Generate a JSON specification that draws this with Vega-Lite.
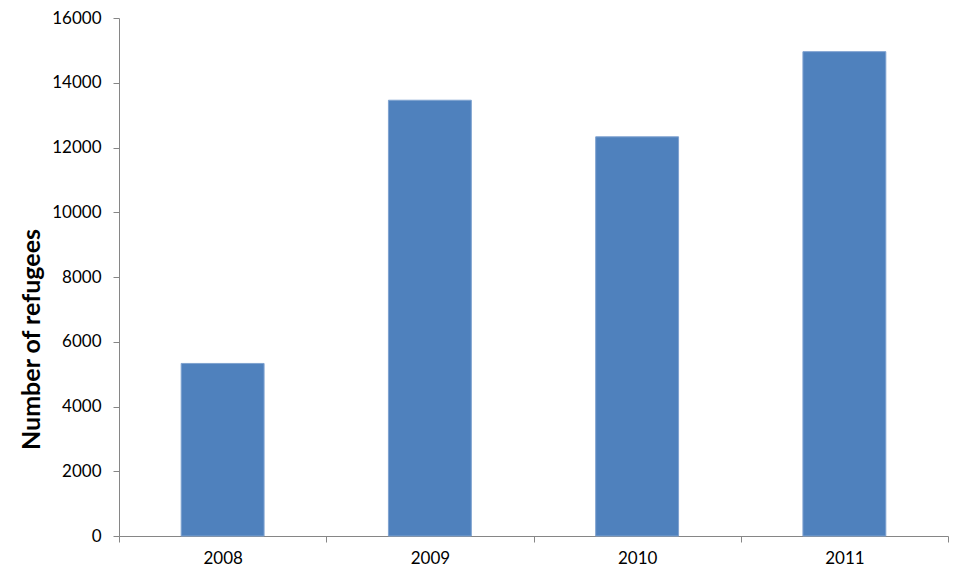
{
  "$schema": "https://vega.github.io/schema/vega-lite/v6.json",
  "width": 829,
  "height": 518,
  "autosize": {"type": "none"},
  "padding": {"left": 119, "top": 18, "right": 17, "bottom": 45},
  "background": "white",
  "config": {"view": {"stroke": null}, "font": "Lato"},
  "data": {"values": [
    {"year": "2008", "refugees": 5330},
    {"year": "2009", "refugees": 13460},
    {"year": "2010", "refugees": 12330},
    {"year": "2011", "refugees": 14960}
  ]},
  "mark": {"type": "bar", "color": "#4F81BD", "stroke": "#7FA2D0", "strokeWidth": 1, "width": {"band": 0.4}},
  "encoding": {
    "x": {
      "field": "year", "type": "nominal",
      "scale": {"paddingInner": 0, "paddingOuter": 0},
      "axis": {
        "title": null, "labelAngle": 0, "labelFontSize": 17, "labelColor": "#000000",
        "labelFont": "Lato", "labelPadding": 8, "tickBand": "extent", "tickSize": 6,
        "domainColor": "#868686", "tickColor": "#868686", "grid": false
      }
    },
    "y": {
      "field": "refugees", "type": "quantitative",
      "scale": {"domain": [0, 16000], "nice": false},
      "axis": {
        "values": [0, 2000, 4000, 6000, 8000, 10000, 12000, 14000, 16000],
        "format": "d", "grid": false, "tickSize": 6, "labelPadding": 12,
        "labelFontSize": 17, "labelColor": "#000000", "labelFont": "Lato",
        "domainColor": "#868686", "tickColor": "#868686",
        "title": "Number of refugees", "titleFontSize": 25, "titleFontWeight": "bold",
        "titleFont": "Lato", "titleColor": "#000000", "titleAngle": 270,
        "titleX": -80, "titleY": 321, "titleAlign": "center", "titleBaseline": "alphabetic"
      }
    }
  }
}
